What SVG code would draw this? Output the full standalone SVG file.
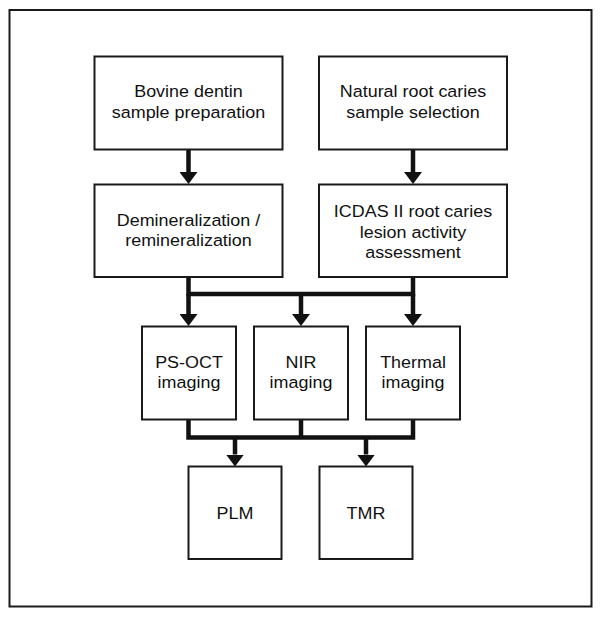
<svg xmlns="http://www.w3.org/2000/svg" width="602" height="617" viewBox="0 0 602 617">
<style>
.box{fill:#fff;stroke:#1a1a1a;stroke-width:2}
.lbl{font-family:"Liberation Sans",Arial,sans-serif;font-size:16.3px;fill:#111;text-anchor:middle}
.con{fill:none;stroke:#111;stroke-width:4.5;stroke-linejoin:miter}
</style>
<defs>
<marker id="ah" viewBox="0 -9 12 18" refX="0" refY="0" markerWidth="12" markerHeight="18" markerUnits="userSpaceOnUse" orient="auto">
<path d="M0,-9 L12,0 L0,9 z" fill="#111"/>
</marker>
</defs>
<rect width="602" height="617" fill="#fff"/>
<rect x="9.5" y="10" width="582" height="596.5" fill="none" stroke="#1a1a1a" stroke-width="2"/>
<g id="connectors">
<path class="con" d="M188.5 149.5 V172" marker-end="url(#ah)"/>
<path class="con" d="M413 149.5 V172" marker-end="url(#ah)"/>
<path class="con" d="M188.5 277 V294 H413 V277"/>
<path class="con" d="M188.5 294 V314" marker-end="url(#ah)"/>
<path class="con" d="M301 294 V314" marker-end="url(#ah)"/>
<path class="con" d="M413 294 V314" marker-end="url(#ah)"/>
<path class="con" d="M188.5 419.5 V437.5 H413 V419.5"/>
<path class="con" d="M301 419.5 V437.5"/>
<path class="con" d="M235 437.5 V454.5" marker-end="url(#ah)"/>
<path class="con" d="M366 437.5 V454.5" marker-end="url(#ah)"/>
</g>
<g id="bovine">
<rect class="box" x="94.5" y="56.5" width="188" height="93"/>
<g transform="translate(188.5 0) scale(1.1 1)"><text class="lbl" x="0" y="97.5">Bovine dentin</text><text class="lbl" x="0" y="118.3">sample preparation</text></g>
</g>
<g id="natural">
<rect class="box" x="319" y="56.5" width="188" height="93"/>
<g transform="translate(413 0) scale(1.1 1)"><text class="lbl" x="0" y="97.5">Natural root caries</text><text class="lbl" x="0" y="118.3">sample selection</text></g>
</g>
<g id="demin">
<rect class="box" x="94.5" y="184.5" width="188" height="92.5"/>
<g transform="translate(188.5 0) scale(1.1 1)"><text class="lbl" x="0" y="226">Demineralization /</text><text class="lbl" x="0" y="246.5">remineralization</text></g>
</g>
<g id="icdas">
<rect class="box" x="319" y="184.5" width="188" height="92.5"/>
<g transform="translate(413 0) scale(1.1 1)"><text class="lbl" x="0" y="217.3">ICDAS II root caries</text><text class="lbl" x="0" y="237.7">lesion activity</text><text class="lbl" x="0" y="258">assessment</text></g>
</g>
<g id="psoct">
<rect class="box" x="142" y="326.5" width="94" height="93"/>
<g transform="translate(189 0) scale(1.1 1)"><text class="lbl" x="0" y="367.7">PS-OCT</text><text class="lbl" x="0" y="388.3">imaging</text></g>
</g>
<g id="nir">
<rect class="box" x="254" y="326.5" width="94" height="93"/>
<g transform="translate(301 0) scale(1.1 1)"><text class="lbl" x="0" y="367.7">NIR</text><text class="lbl" x="0" y="388.3">imaging</text></g>
</g>
<g id="thermal">
<rect class="box" x="366" y="326.5" width="94" height="93"/>
<g transform="translate(413 0) scale(1.1 1)"><text class="lbl" x="0" y="367.7">Thermal</text><text class="lbl" x="0" y="388.3">imaging</text></g>
</g>
<g id="plm">
<rect class="box" x="188.5" y="466.5" width="93" height="92.5"/>
<g transform="translate(235 0) scale(1.1 1)"><text class="lbl" x="0" y="519.3">PLM</text></g>
</g>
<g id="tmr">
<rect class="box" x="319.5" y="466.5" width="93" height="92.5"/>
<g transform="translate(366 0) scale(1.1 1)"><text class="lbl" x="0" y="519.3">TMR</text></g>
</g>
</svg>
